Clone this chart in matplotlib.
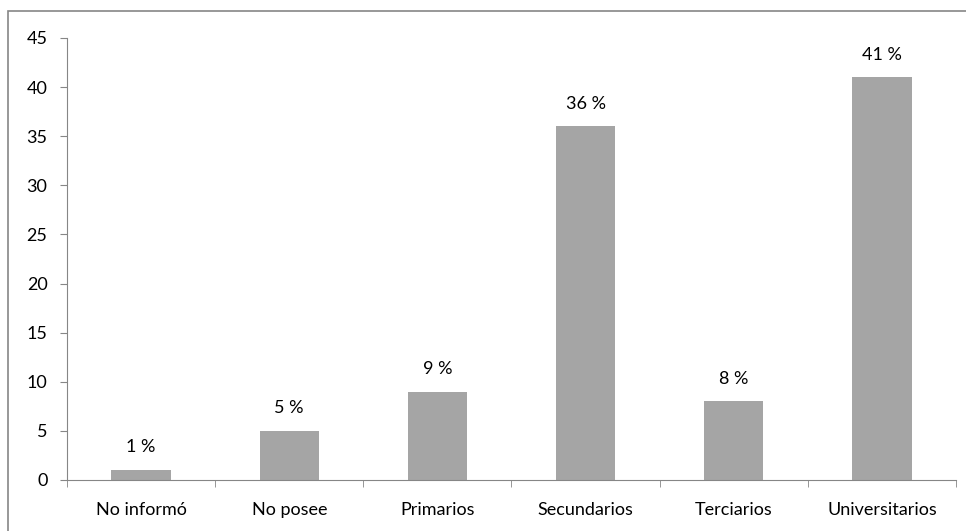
import numpy as np
import matplotlib
matplotlib.use('Agg')
from matplotlib import pyplot as plt
from matplotlib.patches import Rectangle

categories = ['No informó', 'No posee', 'Primarios', 'Secundarios', 'Terciarios', 'Universitarios']
values = [1, 5, 9, 36, 8, 41]
labels = ['1 %', '5 %', '9 %', '36 %', '8 %', '41 %']
yticks = [0, 5, 10, 15, 20, 25, 30, 35, 40, 45]

plt.rcParams['font.family'] = ['Lato', 'DejaVu Sans']

W, H = 966, 531
fig = plt.figure(figsize=(W / 100, H / 100), dpi=100)
ax = fig.add_axes([67 / W, 1 - 480 / H, (956 - 67) / W, (480 - 38) / H])

axis_col = '#868686'
fs = 13
x = np.arange(len(categories))
ax.bar(x, values, width=0.4, color='#a5a5a5')
for xi, v, lab in zip(x, values, labels):
    ax.text(xi, v + 1.5, lab, ha='center', va='bottom', fontsize=fs, color='#000000')

ax.set_xlim(-0.5, len(categories) - 0.5)
ax.set_ylim(0, 45)
ax.set_yticks(yticks)
ax.set_xticks(x)
ax.set_xticklabels(categories)
ax.set_xticks(np.arange(-0.5, len(categories), 1.0), minor=True)
ax.tick_params(axis='x', which='major', length=0, pad=16, labelsize=fs)
ax.tick_params(axis='x', which='minor', length=5, color=axis_col)
ax.tick_params(axis='y', length=5, color=axis_col, pad=9, labelsize=fs)

for s in ['top', 'right']:
    ax.spines[s].set_visible(False)
for s in ['left', 'bottom']:
    ax.spines[s].set_color(axis_col)

# outer chart border
fig.patches.append(Rectangle((8 / W, -0.1), 1.2, 1 - 11 / H + 0.1, transform=fig.transFigure,
                             fill=False, edgecolor='#868686', linewidth=1.2))

fig.savefig('out.png', dpi=100)
